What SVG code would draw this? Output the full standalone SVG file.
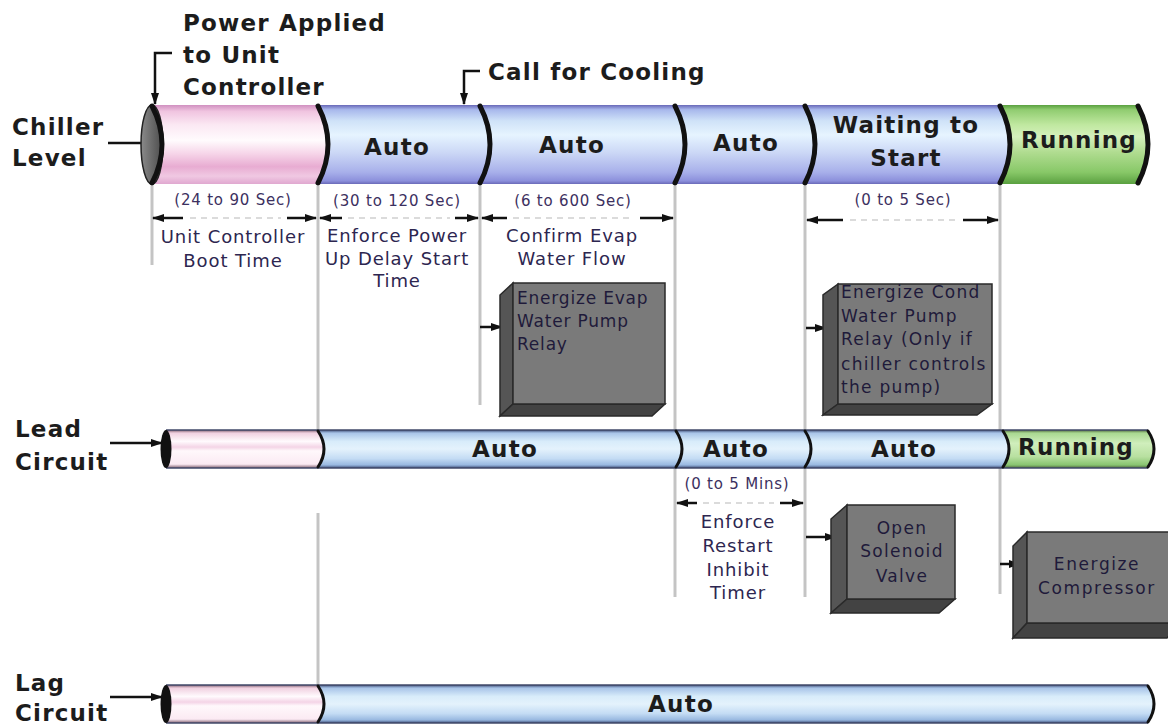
<svg xmlns="http://www.w3.org/2000/svg" width="1168" height="725" viewBox="0 0 1168 725">
<defs>
  <linearGradient id="blueC" x1="0" y1="0" x2="0" y2="1">
    <stop offset="0" stop-color="#6868b8"/><stop offset="0.06" stop-color="#a8b8ec"/>
    <stop offset="0.2" stop-color="#cfe2f8"/><stop offset="0.38" stop-color="#e6f4ff"/>
    <stop offset="0.6" stop-color="#ccd8f6"/><stop offset="0.85" stop-color="#a8b0ea"/>
    <stop offset="0.96" stop-color="#8c90dc"/><stop offset="1" stop-color="#6a6ab8"/>
  </linearGradient>
  <linearGradient id="pinkC" x1="0" y1="0" x2="0" y2="1">
    <stop offset="0" stop-color="#d090c0"/><stop offset="0.08" stop-color="#f0c4e0"/>
    <stop offset="0.25" stop-color="#fbe8f3"/><stop offset="0.45" stop-color="#fffbfd"/>
    <stop offset="0.62" stop-color="#f6d4e8"/><stop offset="0.78" stop-color="#e8acd2"/>
    <stop offset="0.9" stop-color="#f0c8e2"/><stop offset="1" stop-color="#e0a8d0"/>
  </linearGradient>
  <linearGradient id="greenC" x1="0" y1="0" x2="0" y2="1">
    <stop offset="0" stop-color="#5aa040"/><stop offset="0.06" stop-color="#90cc70"/>
    <stop offset="0.25" stop-color="#c0e8a0"/><stop offset="0.4" stop-color="#d4f0bc"/>
    <stop offset="0.6" stop-color="#b0dc90"/><stop offset="0.85" stop-color="#88c868"/>
    <stop offset="1" stop-color="#5aa040"/>
  </linearGradient>
  <linearGradient id="blueL" x1="0" y1="0" x2="0" y2="1">
    <stop offset="0" stop-color="#40507a"/><stop offset="0.08" stop-color="#a8c4e8"/>
    <stop offset="0.3" stop-color="#d8ecfa"/><stop offset="0.5" stop-color="#e4f2fc"/>
    <stop offset="0.75" stop-color="#c4dcf4"/><stop offset="0.92" stop-color="#98b8e0"/>
    <stop offset="1" stop-color="#40507a"/>
  </linearGradient>
  <linearGradient id="pinkL" x1="0" y1="0" x2="0" y2="1">
    <stop offset="0" stop-color="#806070"/><stop offset="0.08" stop-color="#f0d0e0"/>
    <stop offset="0.3" stop-color="#fffafd"/><stop offset="0.45" stop-color="#f4d4e6"/>
    <stop offset="0.55" stop-color="#fff8fb"/><stop offset="0.9" stop-color="#fbeaf3"/>
    <stop offset="1" stop-color="#806070"/>
  </linearGradient>
  <linearGradient id="greenL" x1="0" y1="0" x2="0" y2="1">
    <stop offset="0" stop-color="#506840"/><stop offset="0.08" stop-color="#a8d890"/>
    <stop offset="0.35" stop-color="#d0eebc"/><stop offset="0.7" stop-color="#b8e0a0"/>
    <stop offset="0.92" stop-color="#88c470"/><stop offset="1" stop-color="#506840"/>
  </linearGradient>
  <linearGradient id="capG" x1="0" y1="0" x2="1" y2="0">
    <stop offset="0" stop-color="#8a8a8a"/><stop offset="1" stop-color="#4a4a4a"/>
  </linearGradient>
  <marker id="ah" markerUnits="userSpaceOnUse" markerWidth="12" markerHeight="8" refX="11" refY="4" orient="auto">
    <path d="M0,0 L12,4 L0,8 Z" fill="#111"/>
  </marker>
  <style>
    .bl{font-family:"DejaVu Sans",Verdana,sans-serif;font-weight:bold;font-size:23px;letter-spacing:1.2px;fill:#1c1c1c}
    .bd{font-family:"DejaVu Sans",Verdana,sans-serif;font-size:18px;letter-spacing:0.9px;fill:#2d2650;text-anchor:middle}
    .tm{font-family:"DejaVu Sans",Verdana,sans-serif;font-size:15px;letter-spacing:0.8px;fill:#3c3060;text-anchor:middle}
    .bx{font-family:"DejaVu Sans",Verdana,sans-serif;font-size:17px;letter-spacing:0.8px;fill:#1f1a3a}
    .mid{text-anchor:middle}
    .sep{fill:none;stroke:#111;stroke-width:5;stroke-linecap:round}
    .sepL{fill:none;stroke:#111;stroke-width:3;stroke-linecap:round}
    .edge{stroke:#404868;stroke-width:1.5}
    .vl{stroke:#c4c4c4;stroke-width:3;fill:none}
    .ar{stroke:#111;stroke-width:2.5;fill:none;marker-end:url(#ah)}
    .dash{stroke:#cfcfcf;stroke-width:1.5;stroke-dasharray:6 5;fill:none}
    .front{fill:#7a7a7a;stroke:#2a2a2a;stroke-width:1.5}
    .side{fill:#555;stroke:#2a2a2a;stroke-width:1.5}
    .bot{fill:#434343;stroke:#2a2a2a;stroke-width:1.5}
  </style>
</defs>
<rect width="1168" height="725" fill="#fff"/>

<!-- connectors: guide lines, dimension and pointer arrows -->
<g id="connectors">
  <line class="vl" x1="152" y1="186" x2="152" y2="265"/>
  <line class="vl" x1="318" y1="186" x2="318" y2="430"/>
  <line class="vl" x1="318" y1="513" x2="318" y2="685"/>
  <line class="vl" x1="480" y1="186" x2="480" y2="405"/>
  <line class="vl" x1="675" y1="186" x2="675" y2="430"/>
  <line class="vl" x1="675" y1="468" x2="675" y2="597"/>
  <line class="vl" x1="805" y1="186" x2="805" y2="430"/>
  <line class="vl" x1="805" y1="468" x2="805" y2="597"/>
  <line class="vl" x1="1000" y1="186" x2="1000" y2="430"/>
  <line class="vl" x1="1000" y1="468" x2="1000" y2="594"/>

  <!-- dimension arrows -->
  <line class="ar" x1="183" y1="218" x2="153" y2="218"/>
  <line class="dash" x1="190" y1="218" x2="281" y2="218"/>
  <line class="ar" x1="287" y1="218" x2="316" y2="218"/>
  <line class="ar" x1="342" y1="218" x2="320" y2="218"/>
  <line class="dash" x1="348" y1="218" x2="450" y2="218"/>
  <line class="ar" x1="455" y1="218" x2="478" y2="218"/>
  <line class="ar" x1="507" y1="218" x2="482" y2="218"/>
  <line class="dash" x1="513" y1="218" x2="634" y2="218"/>
  <line class="ar" x1="640" y1="218" x2="673" y2="218"/>
  <line class="ar" x1="843" y1="220" x2="807" y2="220"/>
  <line class="dash" x1="850" y1="220" x2="957" y2="220"/>
  <line class="ar" x1="963" y1="220" x2="998" y2="220"/>
  <line class="ar" x1="697" y1="503" x2="677" y2="503"/>
  <line class="dash" x1="703" y1="503" x2="774" y2="503"/>
  <line class="ar" x1="780" y1="503" x2="803" y2="503"/>

  <!-- pointers -->
  <polyline class="ar" points="172,53 155,53 155,104"/>
  <polyline class="ar" points="480,71 464,71 464,104"/>
  <line class="ar" x1="108" y1="143" x2="156" y2="143"/>
  <line class="ar" x1="110" y1="443" x2="162" y2="443"/>
  <line class="ar" x1="110" y1="697" x2="162" y2="697"/>
  <line class="ar" x1="480" y1="327" x2="502" y2="327"/>
  <line class="ar" x1="806" y1="328" x2="826" y2="328"/>
  <line class="ar" x1="806" y1="537" x2="836" y2="537"/>
  <line class="ar" x1="1000" y1="564" x2="1020" y2="564"/>
</g>

<!-- Titles -->
<g id="labels">
  <text class="bl" x="183" y="31">Power Applied</text>
  <text class="bl" x="183" y="63">to Unit</text>
  <text class="bl" x="183" y="95">Controller</text>
  <text class="bl" x="488" y="80">Call for Cooling</text>
  <text class="bl" x="12" y="135">Chiller</text>
  <text class="bl" x="12" y="166">Level</text>
  <text class="bl" x="15" y="437">Lead</text>
  <text class="bl" x="15" y="470">Circuit</text>
  <text class="bl" x="15" y="691">Lag</text>
  <text class="bl" x="15" y="721">Circuit</text>
</g>

<!-- Chiller Level cylinder -->
<g id="chiller-level">
  <path d="M152,105 L318,105 Q338,144.5 318,184 L152,184 Z" fill="url(#pinkC)"/>
  <path d="M318,105 L480,105 Q500,144.5 480,184 L318,184 Q338,144.5 318,105 Z" fill="url(#blueC)"/>
  <path d="M480,105 L675,105 Q695,144.5 675,184 L480,184 Q500,144.5 480,105 Z" fill="url(#blueC)"/>
  <path d="M675,105 L805,105 Q825,144.5 805,184 L675,184 Q695,144.5 675,105 Z" fill="url(#blueC)"/>
  <path d="M805,105 L1000,105 Q1020,144.5 1000,184 L805,184 Q825,144.5 805,105 Z" fill="url(#blueC)"/>
  <path d="M1000,105 L1138,105 Q1158,144.5 1138,184 L1000,184 Q1020,144.5 1000,105 Z" fill="url(#greenC)"/>
  <ellipse cx="152" cy="144.5" rx="11" ry="39.5" fill="url(#capG)" stroke="#222" stroke-width="1.5"/>
  <path class="sep" d="M152,106 Q172,144.5 152,183"/>
  <path class="sep" d="M318,106 Q338,144.5 318,183"/>
  <path class="sep" d="M480,106 Q500,144.5 480,183"/>
  <path class="sep" d="M675,106 Q695,144.5 675,183"/>
  <path class="sep" d="M805,106 Q825,144.5 805,183"/>
  <path class="sep" d="M1000,106 Q1020,144.5 1000,183"/>
  <path class="sep" d="M1138,106 Q1158,144.5 1138,183"/>
  <text class="bl mid" x="397" y="155">Auto</text>
  <text class="bl mid" x="572" y="153">Auto</text>
  <text class="bl mid" x="746" y="151">Auto</text>
  <text class="bl mid" x="906" y="133">Waiting to</text>
  <text class="bl mid" x="906" y="166">Start</text>
  <text class="bl mid" x="1079" y="148">Running</text>
</g>

<!-- Timing annotations -->
<g id="timings">
  <text class="tm" x="233" y="205">(24 to 90 Sec)</text>
  <text class="tm" x="397" y="206">(30 to 120 Sec)</text>
  <text class="tm" x="573" y="206">(6 to 600 Sec)</text>
  <text class="tm" x="903" y="205">(0 to 5 Sec)</text>
  <text class="tm" x="737" y="489">(0 to 5 Mins)</text>
  <text class="bd" x="233" y="243">Unit Controller</text>
  <text class="bd" x="233" y="267">Boot Time</text>
  <text class="bd" x="397" y="242">Enforce Power</text>
  <text class="bd" x="397" y="265">Up Delay Start</text>
  <text class="bd" x="397" y="287">Time</text>
  <text class="bd" x="572" y="242">Confirm Evap</text>
  <text class="bd" x="572" y="265">Water Flow</text>
  <text class="bd" x="738" y="528">Enforce</text>
  <text class="bd" x="738" y="552">Restart</text>
  <text class="bd" x="738" y="576">Inhibit</text>
  <text class="bd" x="738" y="599">Timer</text>
</g>

<!-- Action boxes -->
<g id="box-evap">
  <polygon class="side" points="513,283 500,295 500,416 513,404"/>
  <polygon class="bot" points="513,404 500,416 652,416 665,404"/>
  <rect class="front" x="513" y="283" width="152" height="121"/>
  <text class="bx" x="517" y="304">Energize Evap</text>
  <text class="bx" x="517" y="327">Water Pump</text>
  <text class="bx" x="517" y="350">Relay</text>
</g>
<g id="box-cond">
  <polygon class="side" points="838,284 823,295 823,415 838,404"/>
  <polygon class="bot" points="838,404 823,415 977,415 992,404"/>
  <rect class="front" x="838" y="284" width="154" height="120"/>
  <text class="bx" x="841" y="298" style="letter-spacing:1.3px">Energize Cond</text>
  <text class="bx" x="841" y="322" style="letter-spacing:1.3px">Water Pump</text>
  <text class="bx" x="841" y="345" style="letter-spacing:1.3px">Relay (Only if</text>
  <text class="bx" x="841" y="370" style="letter-spacing:1.3px">chiller controls</text>
  <text class="bx" x="841" y="393" style="letter-spacing:1.3px">the pump)</text>
</g>
<g id="box-solenoid">
  <polygon class="side" points="847,505 831,519 831,613 847,599"/>
  <polygon class="bot" points="847,599 831,613 939,613 955,599"/>
  <rect class="front" x="847" y="505" width="108" height="94"/>
  <text class="bx mid" x="902" y="534" style="letter-spacing:1.3px">Open</text>
  <text class="bx mid" x="902" y="557" style="letter-spacing:1.3px">Solenoid</text>
  <text class="bx mid" x="902" y="582" style="letter-spacing:1.3px">Valve</text>
</g>
<g id="box-compressor">
  <polygon class="side" points="1027,532 1013,546 1013,638 1027,623"/>
  <polygon class="bot" points="1027,623 1013,638 1167,638 1180,623"/>
  <rect class="front" x="1027" y="532" width="160" height="91"/>
  <text class="bx mid" x="1097" y="570" style="letter-spacing:1.6px">Energize</text>
  <text class="bx mid" x="1097" y="594" style="letter-spacing:1.6px">Compressor</text>
</g>

<!-- Lead Circuit cylinder -->
<g id="lead-circuit">
  <path d="M166,430 L318,430 Q330,449 318,468 L166,468 Z" fill="url(#pinkL)"/>
  <path d="M318,430 L676,430 Q688,449 676,468 L318,468 Q330,449 318,430 Z" fill="url(#blueL)"/>
  <path d="M676,430 L805,430 Q817,449 805,468 L676,468 Q688,449 676,430 Z" fill="url(#blueL)"/>
  <path d="M805,430 L1003,430 Q1015,449 1003,468 L805,468 Q817,449 805,430 Z" fill="url(#blueL)"/>
  <path d="M1003,430 L1148,430 Q1160,449 1148,468 L1003,468 Q1015,449 1003,430 Z" fill="url(#greenL)"/>
  <line class="edge" x1="166" y1="430" x2="1148" y2="430"/>
  <line class="edge" x1="166" y1="468" x2="1148" y2="468"/>
  <ellipse cx="166" cy="449" rx="5.5" ry="19" fill="#111"/>
  <path class="sepL" d="M318,431 Q330,449 318,467"/>
  <path class="sepL" d="M676,431 Q688,449 676,467"/>
  <path class="sepL" d="M805,431 Q817,449 805,467"/>
  <path class="sepL" d="M1003,431 Q1015,449 1003,467"/>
  <path class="sepL" d="M1148,431 Q1160,449 1148,467"/>
  <text class="bl mid" x="505" y="457">Auto</text>
  <text class="bl mid" x="736" y="457">Auto</text>
  <text class="bl mid" x="904" y="457">Auto</text>
  <text class="bl mid" x="1076" y="455">Running</text>
</g>

<!-- Lag Circuit cylinder -->
<g id="lag-circuit">
  <path d="M166,685 L318,685 Q330,704 318,723 L166,723 Z" fill="url(#pinkL)"/>
  <path d="M318,685 L1148,685 Q1160,704 1148,723 L318,723 Q330,704 318,685 Z" fill="url(#blueL)"/>
  <line class="edge" x1="166" y1="685" x2="1148" y2="685"/>
  <line class="edge" x1="166" y1="723" x2="1148" y2="723"/>
  <ellipse cx="166" cy="704" rx="5.5" ry="19" fill="#111"/>
  <path class="sepL" d="M318,686 Q330,704 318,722"/>
  <path class="sepL" d="M1148,686 Q1160,704 1148,722"/>
  <text class="bl mid" x="681" y="712">Auto</text>
</g>
</svg>
